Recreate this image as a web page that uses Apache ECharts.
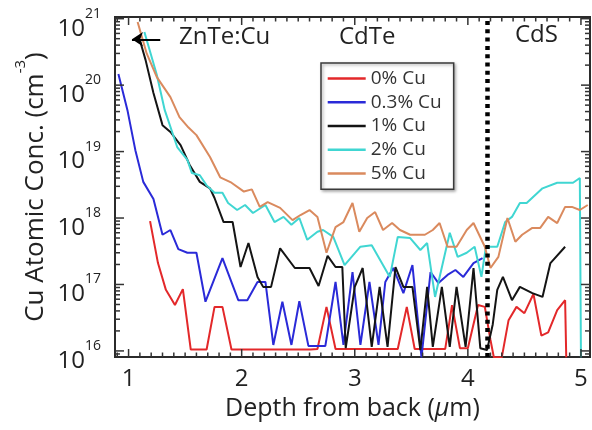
<!DOCTYPE html>
<html><head><meta charset="utf-8">
<script src="https://cdn.jsdelivr.net/npm/echarts@6/dist/echarts.min.js"></script>
<style>html,body{margin:0;padding:0;background:#fff}#c{width:592px;height:430px}</style>
</head><body><div id="c"></div>
<script>
// ---- data (depth in µm, Cu concentration in cm^-3) ----
const depth0 = [1.19,1.26,1.33,1.41,1.48,1.55,1.62,1.69,1.76,1.83,1.91,1.98,2.05,2.12,2.19,2.26,2.33,2.40,2.47,2.54,2.61,2.67,2.75,2.83,2.90,2.97,3.04,3.11,3.18,3.25,3.32,3.38,3.46,3.53,3.60,3.67,3.74,3.80,3.86,3.93,4.00,4.09,4.15,4.20,4.23,4.30,4.36,4.43,4.50,4.58,4.65,4.71,4.79,4.86,4.87];
const cu0 = [9.0e17,2.1e17,8.3e16,4.9e16,8.5e16,1.05e16,1.05e16,1.05e16,4.6e16,4.6e16,1.05e16,1.05e16,1.05e16,1.05e16,1.05e16,1.05e16,1.05e16,1.05e16,1.05e16,1.05e16,1.05e16,1.07e16,4.6e16,1.07e16,1.07e16,1.07e16,1.07e16,1.07e16,1.07e16,1.07e16,1.07e16,1.07e16,4.6e16,1.07e16,1.07e16,1.07e16,1.07e16,1.07e16,4.9e16,1.1e16,1.1e16,4.9e16,4.6e16,1.46e16,8.0e15,8.0e15,2.9e16,4.6e16,3.7e16,7.2e16,1.7e16,1.9e16,4.1e16,5.8e16,8.0e15];

const depth03 = [0.91,0.99,1.06,1.13,1.22,1.30,1.37,1.44,1.52,1.60,1.68,1.83,1.97,2.05,2.14,2.21,2.28,2.36,2.44,2.51,2.59,2.74,2.83,2.90,2.98,3.05,3.13,3.21,3.27,3.34,3.43,3.51,3.59,3.67,3.74,3.82,3.89,3.96,4.05,4.13];
const cu03 = [1.47e20,4.2e19,1.05e19,3.5e18,1.93e18,5.6e17,6.6e17,3.4e17,3.0e17,3.0e17,5.5e16,2.5e17,5.8e16,5.8e16,1.09e17,1.09e17,1.23e16,5.5e16,1.23e16,5.6e16,1.19e16,1.19e16,1.09e17,1.23e16,1.54e17,1.23e16,1.09e17,1.23e16,1.09e17,1.77e17,7.4e16,1.96e17,8.0e15,1.54e17,1.05e17,1.39e17,1.65e17,1.30e17,2.1e17,2.5e17];

const depth1 = [1.10,1.15,1.22,1.30,1.37,1.46,1.54,1.63,1.72,1.76,1.84,1.92,1.99,2.06,2.14,2.19,2.26,2.34,2.47,2.60,2.68,2.76,2.83,2.89,2.92,3.00,3.07,3.15,3.22,3.29,3.36,3.43,3.51,3.58,3.64,3.69,3.77,3.84,3.90,3.98,4.05,4.11,4.17,4.22,4.26,4.31,4.39,4.46,4.57,4.66,4.73,4.86];
const cu1 = [4.75e20,2.4e20,7.6e19,2.5e19,1.97e19,1.25e19,6.3e18,3.5e18,2.8e18,2.0e18,8.7e17,8.7e17,1.83e17,4.2e17,1.30e17,9.2e16,9.2e16,3.5e17,1.77e17,1.77e17,9.5e16,2.7e17,1.83e17,1.83e17,1.1e16,9.2e16,1.77e17,1.15e16,9.2e16,1.15e16,1.83e17,9.2e16,9.2e16,1.03e16,9.2e16,1.15e16,9.2e16,1.15e16,9.2e16,1.15e16,1.77e17,1.1e16,1.03e16,2.5e16,8.3e16,1.30e17,5.8e16,9.2e16,7.4e16,6.5e16,2.1e17,3.7e17];

const depth2 = [1.14,1.25,1.32,1.43,1.52,1.56,1.63,1.69,1.76,1.83,1.88,1.96,2.03,2.10,2.21,2.29,2.37,2.44,2.51,2.58,2.67,2.72,2.81,2.91,3.05,3.15,3.31,3.38,3.49,3.58,3.64,3.71,3.84,3.91,3.99,4.06,4.12,4.16,4.26,4.33,4.39,4.46,4.52,4.66,4.79,4.93,4.99,5.00];
const cu2 = [6.3e20,1.42e20,4.2e19,1.17e19,7.5e18,4.75e18,4.4e18,3.1e18,2.4e18,2.4e18,1.68e18,1.32e18,1.57e18,1.19e18,1.57e18,8.7e17,1.04e18,7.9e17,1.0e18,4.7e17,6.2e17,6.6e17,5.2e17,1.96e17,3.7e17,3.9e17,1.30e17,5.2e17,5.0e17,3.3e17,4.2e17,6.5e16,6.0e17,2.6e17,3.0e17,3.7e17,1.30e17,3.7e17,3.7e17,8.7e17,1.04e18,1.68e18,1.68e18,2.8e18,3.4e18,3.4e18,4.0e18,8.0e15];

const depth5 = [1.08,1.16,1.25,1.37,1.45,1.53,1.60,1.72,1.81,1.91,2.02,2.09,2.16,2.23,2.34,2.45,2.52,2.60,2.67,2.75,2.83,2.90,2.98,3.04,3.11,3.18,3.25,3.33,3.40,3.49,3.62,3.69,3.75,3.82,3.90,3.99,4.05,4.15,4.20,4.27,4.35,4.42,4.48,4.57,4.64,4.71,4.79,4.86,4.92,4.99,5.06];
const cu5 = [8.9e20,3.0e20,1.32e20,6.6e19,3.3e19,2.3e19,1.77e19,8.3e18,4.1e18,3.4e18,2.5e18,2.7e18,1.47e18,1.74e18,1.42e18,9.3e17,1.11e18,1.32e18,1.04e18,3.0e17,7.3e17,8.7e17,1.68e18,6.2e17,1.0e18,1.23e18,6.6e17,8.4e17,6.6e17,5.6e17,5.6e17,6.6e17,8.4e17,3.7e17,3.7e17,6.6e17,8.4e17,3.7e17,1.77e17,2.6e17,1.0e18,4.4e17,5.6e17,7.1e17,7.1e17,1.04e18,8.4e17,1.47e18,1.47e18,1.32e18,1.57e18];

const seriesNames = ['0% Cu','0.3% Cu','1% Cu','2% Cu','5% Cu'];
const seriesColors = ['#e3282a','#2a2ad8','#141414','#40d6d2','#da8a5e'];
const xTickLabels = ['1','2','3','4','5'];
const yTickExponents = [16,17,18,19,20,21];
const regionLabels = ['ZnTe:Cu','CdTe','CdS'];
const yTitle = '{a|Cu Atomic Conc. (cm}{s|-3}{a|)}';
const interfaceDepth = 4.17;
const arrowFrom = [1.28, 4.9e20], arrowTo = [1.03, 4.9e20];

const XMIN = 0.88, XMAX = 5.08, YMIN = 8.1e15, YMAX = 1.06e21;
const FONT = '"Open Sans", "DejaVu Sans", sans-serif';
const TXT = '#222';

// tick mark positions (decorations)
const xTicks = [];
for (let k = 9; k <= 50; k++) { const v = k / 10; xTicks.push([v, 1e18, k % 10 === 0 ? 8 : 4.5]); }
const yTicks = [];
for (let e = 15; e <= 21; e++) for (let m = 1; m <= 9; m++) {
  const v = m * Math.pow(10, e);
  if (v >= YMIN && v <= YMAX) yTicks.push([1, v, m === 1 ? 9 : 5]);
}

const pairs = (xs, ys) => xs.map((x, i) => [x, ys[i]]);
const allDepth = [depth0, depth03, depth1, depth2, depth5];
const allCu = [cu0, cu03, cu1, cu2, cu5];

const lineSeries = seriesNames.map((n, i) => ({
  name: n, type: 'line', data: pairs(allDepth[i], allCu[i]),
  symbol: 'none', showSymbol: false, clip: true,
  lineStyle: { width: 2, color: seriesColors[i] }, itemStyle: { color: seriesColors[i] },
  z: 3
}));

const tickStyle = { stroke: '#333', lineWidth: 1.5 };

const chart = echarts.init(document.getElementById('c'), null, { renderer: 'canvas' });
chart.setOption({
  animation: false,
  backgroundColor: '#fff',
  grid: { left: 115, right: 2, top: 17, bottom: 73, show: true, borderColor: '#2b2b2b', borderWidth: 2, backgroundColor: 'transparent' },
  xAxis: {
    type: 'value', min: XMIN, max: XMAX, splitNumber: 4,
    axisLine: { show: false }, axisTick: { show: false }, splitLine: { show: false },
    axisLabel: {
      margin: 10, fontSize: 24, fontFamily: FONT, color: TXT, showMinLabel: false, showMaxLabel: false,
      formatter: v => { const r = Math.round(v); return (Math.abs(v - r) < 1e-6 && xTickLabels.includes(String(r))) ? String(r) : ''; }
    },
    name: '{a|Depth from back (}{i|μ}{a|m)}', nameLocation: 'middle', nameGap: 34,
    nameTextStyle: { rich: {
      a: { fontSize: 25, fontFamily: FONT, color: TXT },
      i: { fontSize: 25, fontFamily: FONT, color: TXT, fontStyle: 'italic' }
    } }
  },
  yAxis: {
    type: 'log', logBase: 10, min: YMIN, max: YMAX,
    axisLine: { show: false }, axisTick: { show: false }, splitLine: { show: false }, minorTick: { show: false },
    axisLabel: {
      margin: 14, padding: [10, 0, 0, 0],
      formatter: v => { const e = Math.log10(v); const r = Math.round(e); return (Math.abs(e - r) < 1e-6 && yTickExponents.includes(r)) ? '{b|10}{s|' + r + '}' : ''; },
      rich: {
        b: { fontSize: 24, fontFamily: FONT, color: TXT, lineHeight: 34, verticalAlign: 'bottom' },
        s: { fontSize: 14, fontFamily: FONT, color: TXT, lineHeight: 16, verticalAlign: 'top' }
      }
    }
  },
  legend: {
    data: seriesNames, orient: 'vertical', left: 321, top: 63,
    padding: [5.6, 12, 5.9, 6.7], itemWidth: 38, itemHeight: 2.5, itemGap: 3.7, itemTextGap: 9,
    icon: 'rect',
    backgroundColor: '#fff', borderColor: '#3a3a3a', borderWidth: 1.5,
    shadowBlur: 3, shadowColor: 'rgba(0,0,0,0.35)', shadowOffsetX: 1.5, shadowOffsetY: 1.5,
    textStyle: { fontSize: 19, fontFamily: FONT, color: '#333', lineHeight: 20 }
  },
  graphic: [
    { type: 'text', x: 179, y: 37, style: { text: regionLabels[0], font: '24px ' + FONT, fill: TXT, verticalAlign: 'middle', textVerticalAlign: 'middle' } },
    { type: 'text', x: 339, y: 37, style: { text: regionLabels[1], font: '24px ' + FONT, fill: TXT, verticalAlign: 'middle', textVerticalAlign: 'middle' } },
    { type: 'text', x: 515, y: 35, style: { text: regionLabels[2], font: '24px ' + FONT, fill: TXT, verticalAlign: 'middle', textVerticalAlign: 'middle' } },
    { type: 'text', x: 31, y: 187, rotation: Math.PI / 2,
      style: { text: yTitle, align: 'center', verticalAlign: 'middle', textAlign: 'center', textVerticalAlign: 'middle',
        rich: {
          a: { fontSize: 26, fontFamily: FONT, fill: TXT, color: TXT, lineHeight: 36, verticalAlign: 'bottom' },
          s: { fontSize: 15, fontFamily: FONT, fill: TXT, color: TXT, lineHeight: 17, verticalAlign: 'top' }
        } } }
  ],
  series: lineSeries.concat([
    {
      name: 'annot', type: 'line', data: [], silent: true,
      markLine: {
        silent: true, symbol: 'none', animation: false, label: { show: false },
        data: [
          { xAxis: interfaceDepth, lineStyle: { color: '#000', width: 4.5, type: [4, 4.3] } },
          [ { coord: arrowFrom, symbol: 'none', lineStyle: { color: '#000', width: 2, type: 'solid' } },
            { coord: arrowTo, symbol: 'arrow', symbolSize: 11 } ]
        ]
      }
    },
    {
      name: 'xticks', type: 'custom', silent: true, clip: false, z: 4, data: xTicks,
      renderItem: (params, api) => {
        const cs = params.coordSys; const px = api.coord([api.value(0), api.value(1)])[0]; const len = api.value(2);
        return { type: 'group', children: [
          { type: 'line', shape: { x1: px, y1: cs.y + cs.height, x2: px, y2: cs.y + cs.height - len }, style: tickStyle },
          { type: 'line', shape: { x1: px, y1: cs.y, x2: px, y2: cs.y + len }, style: tickStyle }
        ] };
      }
    },
    {
      name: 'yticks', type: 'custom', silent: true, clip: false, z: 4, data: yTicks,
      renderItem: (params, api) => {
        const cs = params.coordSys; const py = api.coord([api.value(0), api.value(1)])[1]; const len = api.value(2);
        return { type: 'group', children: [
          { type: 'line', shape: { x1: cs.x, y1: py, x2: cs.x + len, y2: py }, style: tickStyle },
          { type: 'line', shape: { x1: cs.x + cs.width, y1: py, x2: cs.x + cs.width - len, y2: py }, style: tickStyle }
        ] };
      }
    }
  ])
});
</script>
</body></html>
